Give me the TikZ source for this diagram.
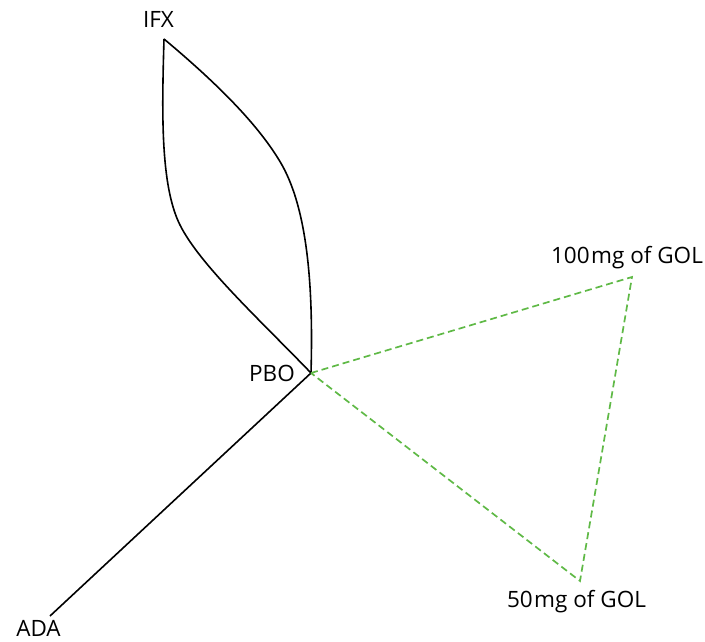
\documentclass[tikz,border=0pt]{standalone}
\usepackage{fontspec}
\setmainfont{Open Sans}
\begin{document}
\begin{tikzpicture}[x=1pt,y=-1pt,
  lbl/.style={inner sep=0pt,anchor=base,font=\fontsize{22.5}{25}\selectfont},
  solidline/.style={line width=1.6pt,black,line join=round},
  greenline/.style={line width=1.7pt,draw={rgb,255:red,95;green,185;blue,70},dash pattern=on 7pt off 4pt}]
\useasboundingbox (0,0) rectangle (705,642);
\coordinate (IFX) at (164,39);
\coordinate (PBO) at (311,373);
\coordinate (ADA) at (50,616);
\coordinate (G100) at (632,277);
\coordinate (G50) at (580,581);
\node[lbl] (tIFX) at (158.5,28) {IFX};
\node[lbl] (tPBO) at (272,381) {PBO};
\node[lbl] (tADA) at (38.5,636) {ADA};
\node[lbl] (tG100) at (627,263) {100\kern1.5pt mg of GOL};
\node[lbl] (tG50) at (576.5,607) {50\kern1.5pt mg of GOL};
\draw[solidline] (IFX) .. controls (162,110) and (160,185) .. (180,225) .. controls (200,265) and (260,320) .. (PBO);
\draw[solidline] (IFX) .. controls (225,90) and (262,130) .. (282,165) .. controls (310,215) and (313,300) .. (PBO);
\draw[solidline] (PBO) -- (ADA);
\draw[greenline] (PBO) -- (G100) -- (G50) -- cycle;
\end{tikzpicture}
\end{document}
